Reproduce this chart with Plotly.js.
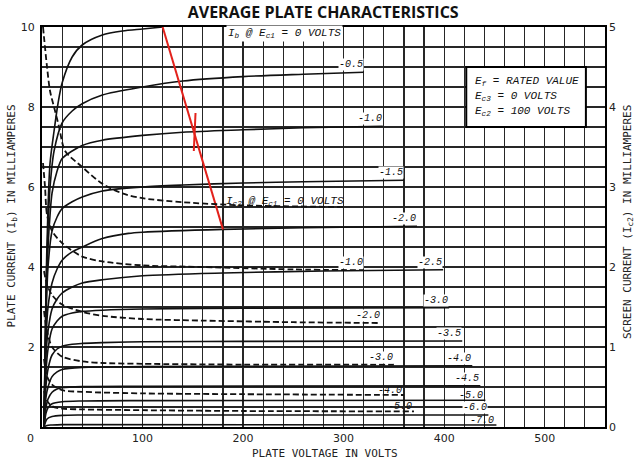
<!DOCTYPE html>
<html>
<head>
<meta charset="utf-8">
<script src="https://cdn.plot.ly/plotly-3.0.1.min.js"></script>
<style>html,body{margin:0;padding:0;background:#fff;}#chart{width:640px;height:462px;}</style>
</head>
<body>
<div id="chart"></div>
<script>
// ---------- DATA ----------
// Plate current Ib (mA, left axis) vs plate voltage (V) for each control-grid voltage Ec1
const ibLabels = ['0', '-0.5', '-1.0', '-1.5', '-2.0', '-2.5', '-3.0', '-3.5', '-4.0', '-4.5', '-5.0', '-6.0', '-7.0'];

const ib_g00_v = [2, 4, 6, 8, 12, 16, 20, 30, 40, 60, 80, 100, 120];
const ib_g00_i = [0, 3.5, 5.5, 6.6, 7.4, 8.1, 8.6, 9.25, 9.55, 9.8, 9.9, 9.95, 10.0];
const ib_g05_v = [2, 4, 6, 8, 12, 20, 30, 40, 60, 100, 140, 200, 260, 320];
const ib_g05_i = [0, 3.3, 5.0, 6.0, 6.9, 7.6, 7.9, 8.08, 8.3, 8.5, 8.65, 8.76, 8.82, 8.87];
const ib_g10_v = [2, 4, 6, 8, 10, 15, 20, 30, 40, 60, 100, 140, 200, 260, 339];
const ib_g10_i = [0, 3.0, 4.5, 5.3, 5.85, 6.4, 6.71, 6.9, 7.04, 7.17, 7.29, 7.37, 7.43, 7.48, 7.52];
const ib_g15_v = [2, 4, 6, 10, 15, 20, 30, 40, 60, 100, 140, 200, 260, 360];
const ib_g15_i = [0, 2.7, 4.0, 4.9, 5.25, 5.46, 5.63, 5.75, 5.9, 6.0, 6.05, 6.1, 6.13, 6.17];
const ib_g20_v = [2, 4, 6, 10, 15, 20, 30, 40, 60, 86, 100, 180, 260, 373];
const ib_g20_i = [0, 2.2, 3.0, 3.6, 3.95, 4.17, 4.38, 4.5, 4.71, 4.84, 4.87, 4.94, 4.98, 5.02];
const ib_g25_v = [2, 4, 6, 10, 15, 20, 30, 40, 60, 100, 180, 280, 399];
const ib_g25_i = [0, 1.8, 2.4, 2.95, 3.2, 3.35, 3.5, 3.6, 3.68, 3.78, 3.85, 3.9, 3.93];
const ib_g30_v = [2, 4, 6, 10, 15, 20, 30, 40, 60, 100, 200, 405];
const ib_g30_i = [0, 1.4, 1.95, 2.45, 2.65, 2.77, 2.85, 2.89, 2.92, 2.95, 2.97, 2.98];
const ib_g35_v = [2, 4, 6, 10, 15, 20, 30, 40, 60, 100, 200, 418];
const ib_g35_i = [0, 1.05, 1.45, 1.8, 1.95, 2.02, 2.07, 2.09, 2.11, 2.13, 2.14, 2.15];
const ib_g40_v = [2, 4, 6, 10, 15, 20, 40, 100, 200, 428];
const ib_g40_i = [0, 0.75, 1.0, 1.26, 1.38, 1.44, 1.49, 1.51, 1.52, 1.53];
const ib_g45_v = [2, 4, 6, 10, 15, 20, 40, 100, 436];
const ib_g45_i = [0, 0.5, 0.7, 0.87, 0.95, 0.98, 1.01, 1.02, 1.03];
const ib_g50_v = [2, 4, 6, 10, 20, 40, 100, 441];
const ib_g50_i = [0, 0.35, 0.48, 0.58, 0.63, 0.65, 0.66, 0.67];
const ib_g60_v = [2, 5, 10, 20, 40, 444];
const ib_g60_i = [0, 0.2, 0.26, 0.29, 0.3, 0.3];
const ib_g70_v = [2, 5, 10, 20, 452];
const ib_g70_i = [0, 0.04, 0.05, 0.06, 0.05];

// Screen current Ic2 (mA, right axis) vs plate voltage for several Ec1
const ic2Labels = ['0', '-1.0', '-2.0', '-3.0', '-4.0', '-5.0'];

const ic2_g00_v = [1, 5, 8, 13, 17, 23, 40, 60, 80, 100, 140, 200, 302];
const ic2_g00_i = [5.0, 4.5, 4.2, 3.95, 3.75, 3.45, 3.25, 3.04, 2.92, 2.86, 2.81, 2.77, 2.75];
const ic2_g10_v = [1, 3, 5, 10, 20, 40, 60, 100, 160, 250, 320];
const ic2_g10_i = [3.3, 3.0, 2.65, 2.45, 2.3, 2.13, 2.07, 2.02, 2.0, 1.97, 1.96];
const ic2_g20_v = [2, 5, 10, 20, 40, 60, 100, 160, 250, 337];
const ic2_g20_i = [1.95, 1.78, 1.65, 1.53, 1.44, 1.39, 1.35, 1.33, 1.31, 1.3];
const ic2_g30_v = [2, 5, 10, 20, 40, 60, 100, 200, 350];
const ic2_g30_i = [1.45, 1.2, 1.0, 0.88, 0.82, 0.8, 0.79, 0.78, 0.78];
const ic2_g40_v = [2, 5, 10, 20, 40, 100, 200, 360];
const ic2_g40_i = [0.85, 0.63, 0.53, 0.46, 0.44, 0.42, 0.41, 0.4];
const ic2_g50_v = [2, 5, 10, 20, 40, 100, 200, 370];
const ic2_g50_i = [0.45, 0.33, 0.26, 0.23, 0.22, 0.21, 0.2, 0.195];

// Red hand-drawn line and its cross mark
const redLine_v = [120, 180];
const redLine_i = [10.0, 4.94];
const redMark_v = [152.7, 151];
const redMark_i = [7.85, 6.9];

// Tick labels
const xTickVals = [100, 200, 300, 400, 500];
const xTickText = ['100', '200', '300', '400', '500'];
const yTickVals = [2, 4, 6, 8, 10];
const yTickText = ['2', '4', '6', '8', '10'];
const y2TickVals = [0, 1, 2, 3, 4, 5];
const y2TickText = ['0', '1', '2', '3', '4', '5'];

// ---------- BUILD ----------
const ibSeries = [
  [ib_g00_v, ib_g00_i], [ib_g05_v, ib_g05_i], [ib_g10_v, ib_g10_i], [ib_g15_v, ib_g15_i],
  [ib_g20_v, ib_g20_i], [ib_g25_v, ib_g25_i], [ib_g30_v, ib_g30_i], [ib_g35_v, ib_g35_i],
  [ib_g40_v, ib_g40_i], [ib_g45_v, ib_g45_i], [ib_g50_v, ib_g50_i], [ib_g60_v, ib_g60_i],
  [ib_g70_v, ib_g70_i]
];
const ic2Series = [
  [ic2_g00_v, ic2_g00_i], [ic2_g10_v, ic2_g10_i], [ic2_g20_v, ic2_g20_i],
  [ic2_g30_v, ic2_g30_i], [ic2_g40_v, ic2_g40_i], [ic2_g50_v, ic2_g50_i]
];
// which curve labels get a white knock-out box (others sit too close to a neighbour line)
const ibLabelBox = [false, true, true, true, true, true, true, true, true, true, false, true, false];
const ic2LabelBox = [false, true, true, true, false, false];

const traces = [];
const annotations = [];
const labelFont = {family: 'Liberation Mono, DejaVu Sans Mono, monospace', size: 10, color: '#111', style: 'italic'};

ibSeries.forEach(function (s, k) {
  traces.push({x: s[0], y: s[1], type: 'scatter', mode: 'lines', xaxis: 'x', yaxis: 'y',
    line: {color: '#111', width: 1.6, shape: 'spline', smoothing: 0.8},
    hoverinfo: 'skip', showlegend: false});
  if (k > 0) {
    const n = s[0].length - 1;
    const a = {x: s[0][n], y: s[1][n], xref: 'x', yref: 'y', xanchor: 'right', yanchor: 'bottom',
      text: ibLabels[k], showarrow: false, font: labelFont};
    if (ibLabelBox[k]) { a.bgcolor = '#fff'; a.borderpad = 0; a.yshift = 1; } else { a.yshift = -3; }
    annotations.push(a);
  }
});

ic2Series.forEach(function (s, k) {
  traces.push({x: s[0], y: s[1], type: 'scatter', mode: 'lines', xaxis: 'x', yaxis: 'y2',
    line: {color: '#111', width: 1.8, dash: '6px,3px', shape: 'spline', smoothing: 0.8},
    hoverinfo: 'skip', showlegend: false});
  const n = s[0].length - 1;
  const a = {x: s[0][n], y: s[1][n], xref: 'x', yref: 'y2', xanchor: 'right', yanchor: 'bottom',
    text: k === 0 ? 'I<sub>c2</sub> @ E<sub>c1</sub> = 0 VOLTS' : ic2Labels[k],
    showarrow: false, font: k === 0 ? Object.assign({}, labelFont, {size: 11}) : labelFont};
  if (ic2LabelBox[k]) { a.bgcolor = '#fff'; a.borderpad = 0; a.yshift = 1; } else { a.yshift = -3; }
  annotations.push(a);
});

traces.push({x: redLine_v, y: redLine_i, type: 'scatter', mode: 'lines', xaxis: 'x', yaxis: 'y',
  line: {color: '#e3221c', width: 2}, hoverinfo: 'skip', showlegend: false});
traces.push({x: redMark_v, y: redMark_i, type: 'scatter', mode: 'lines', xaxis: 'x', yaxis: 'y',
  line: {color: '#e3221c', width: 2}, hoverinfo: 'skip', showlegend: false});

const axisTitleFont = {family: 'DejaVu Sans Mono, Liberation Mono, monospace', size: 11, color: '#222'};

// top "Ib @ Ec1 = 0 VOLTS" label
annotations.push({x: 299, y: 9.84, xref: 'x', yref: 'y', xanchor: 'right', yanchor: 'middle',
  text: 'I<sub>b</sub> @ E<sub>c1</sub> = 0 VOLTS', showarrow: false, bgcolor: '#fff',
  font: Object.assign({}, labelFont, {size: 11})});

// conditions box text
const boxFont = Object.assign({}, labelFont, {size: 11});
annotations.push({x: 429, y: 8.64, xref: 'x', yref: 'y', xanchor: 'left', yanchor: 'middle',
  text: 'E<sub>f</sub> = RATED VALUE', showarrow: false, font: boxFont});
annotations.push({x: 429, y: 8.27, xref: 'x', yref: 'y', xanchor: 'left', yanchor: 'middle',
  text: 'E<sub>c3</sub> = 0 VOLTS', showarrow: false, font: boxFont});
annotations.push({x: 429, y: 7.90, xref: 'x', yref: 'y', xanchor: 'left', yanchor: 'middle',
  text: 'E<sub>c2</sub> = 100 VOLTS', showarrow: false, font: boxFont});

// axis titles and the shared "0" label
annotations.push({x: 0.503, y: -0.065, xref: 'paper', yref: 'paper', xanchor: 'center', yanchor: 'middle',
  text: 'PLATE VOLTAGE IN VOLTS', showarrow: false, font: axisTitleFont});
annotations.push({x: -0.054, y: 0.5275, xref: 'paper', yref: 'paper', xanchor: 'center', yanchor: 'middle',
  textangle: -90, text: 'PLATE CURRENT (I<sub>b</sub>) IN MILLIAMPERES', showarrow: false, font: axisTitleFont});
annotations.push({x: 1.041, y: 0.5125, xref: 'paper', yref: 'paper', xanchor: 'center', yanchor: 'middle',
  textangle: -90, text: 'SCREEN CURRENT (I<sub>c2</sub>) IN MILLIAMPERES', showarrow: false, font: axisTitleFont});
annotations.push({x: -0.0213, y: -0.0275, xref: 'paper', yref: 'paper', xanchor: 'center', yanchor: 'middle',
  text: '0', showarrow: false, font: {family: 'DejaVu Sans, sans-serif', size: 11, color: '#222'}});

const tickFont = {family: 'DejaVu Sans, sans-serif', size: 11, color: '#222'};
const gridCol = '#262626';
const gridW = 1.2;

const layout = {
  width: 640, height: 462,
  margin: {l: 42, r: 35, t: 27, b: 35, pad: 0},
  paper_bgcolor: '#fff', plot_bgcolor: '#fff',
  showlegend: false,
  title: {text: 'AVERAGE PLATE CHARACTERISTICS', x: 0.505, xanchor: 'center', y: 0.974, yanchor: 'middle',
    font: {family: 'Open Sans, DejaVu Sans, sans-serif', size: 16, weight: 'bold', color: '#111'}},
  xaxis: {range: [0, 560], tickmode: 'array', tickvals: xTickVals, ticktext: xTickText,
    showgrid: true, gridcolor: gridCol, gridwidth: gridW,
    minor: {tickmode: 'linear', tick0: 0, dtick: 20, showgrid: true, gridcolor: gridCol, gridwidth: gridW, ticks: ''},
    showline: true, linecolor: '#000', linewidth: 2, mirror: true, ticks: '',
    zeroline: false, tickfont: tickFont, fixedrange: true},
  yaxis: {range: [0, 10], tickmode: 'array', tickvals: yTickVals, ticktext: yTickText,
    showgrid: true, gridcolor: gridCol, gridwidth: gridW,
    minor: {tickmode: 'linear', tick0: 0, dtick: 0.5, showgrid: true, gridcolor: gridCol, gridwidth: gridW, ticks: ''},
    showline: true, linecolor: '#000', linewidth: 2, mirror: true, ticks: '',
    zeroline: false, tickfont: tickFont, ticklabelstandoff: 3, fixedrange: true},
  yaxis2: {range: [0, 5], overlaying: 'y', side: 'right', tickmode: 'array', tickvals: y2TickVals, ticktext: y2TickText,
    showgrid: false, zeroline: false, showline: false, ticks: '', tickfont: tickFont, ticklabelstandoff: 3, fixedrange: true},
  shapes: [{type: 'rect', xref: 'x', yref: 'y', x0: 422, x1: 541, y0: 7.5, y1: 9.0,
    fillcolor: '#fff', line: {color: '#000', width: 2}, layer: 'above'}],
  annotations: annotations
};

Plotly.newPlot('chart', traces, layout, {staticPlot: true, displayModeBar: false});
</script>
</body>
</html>
